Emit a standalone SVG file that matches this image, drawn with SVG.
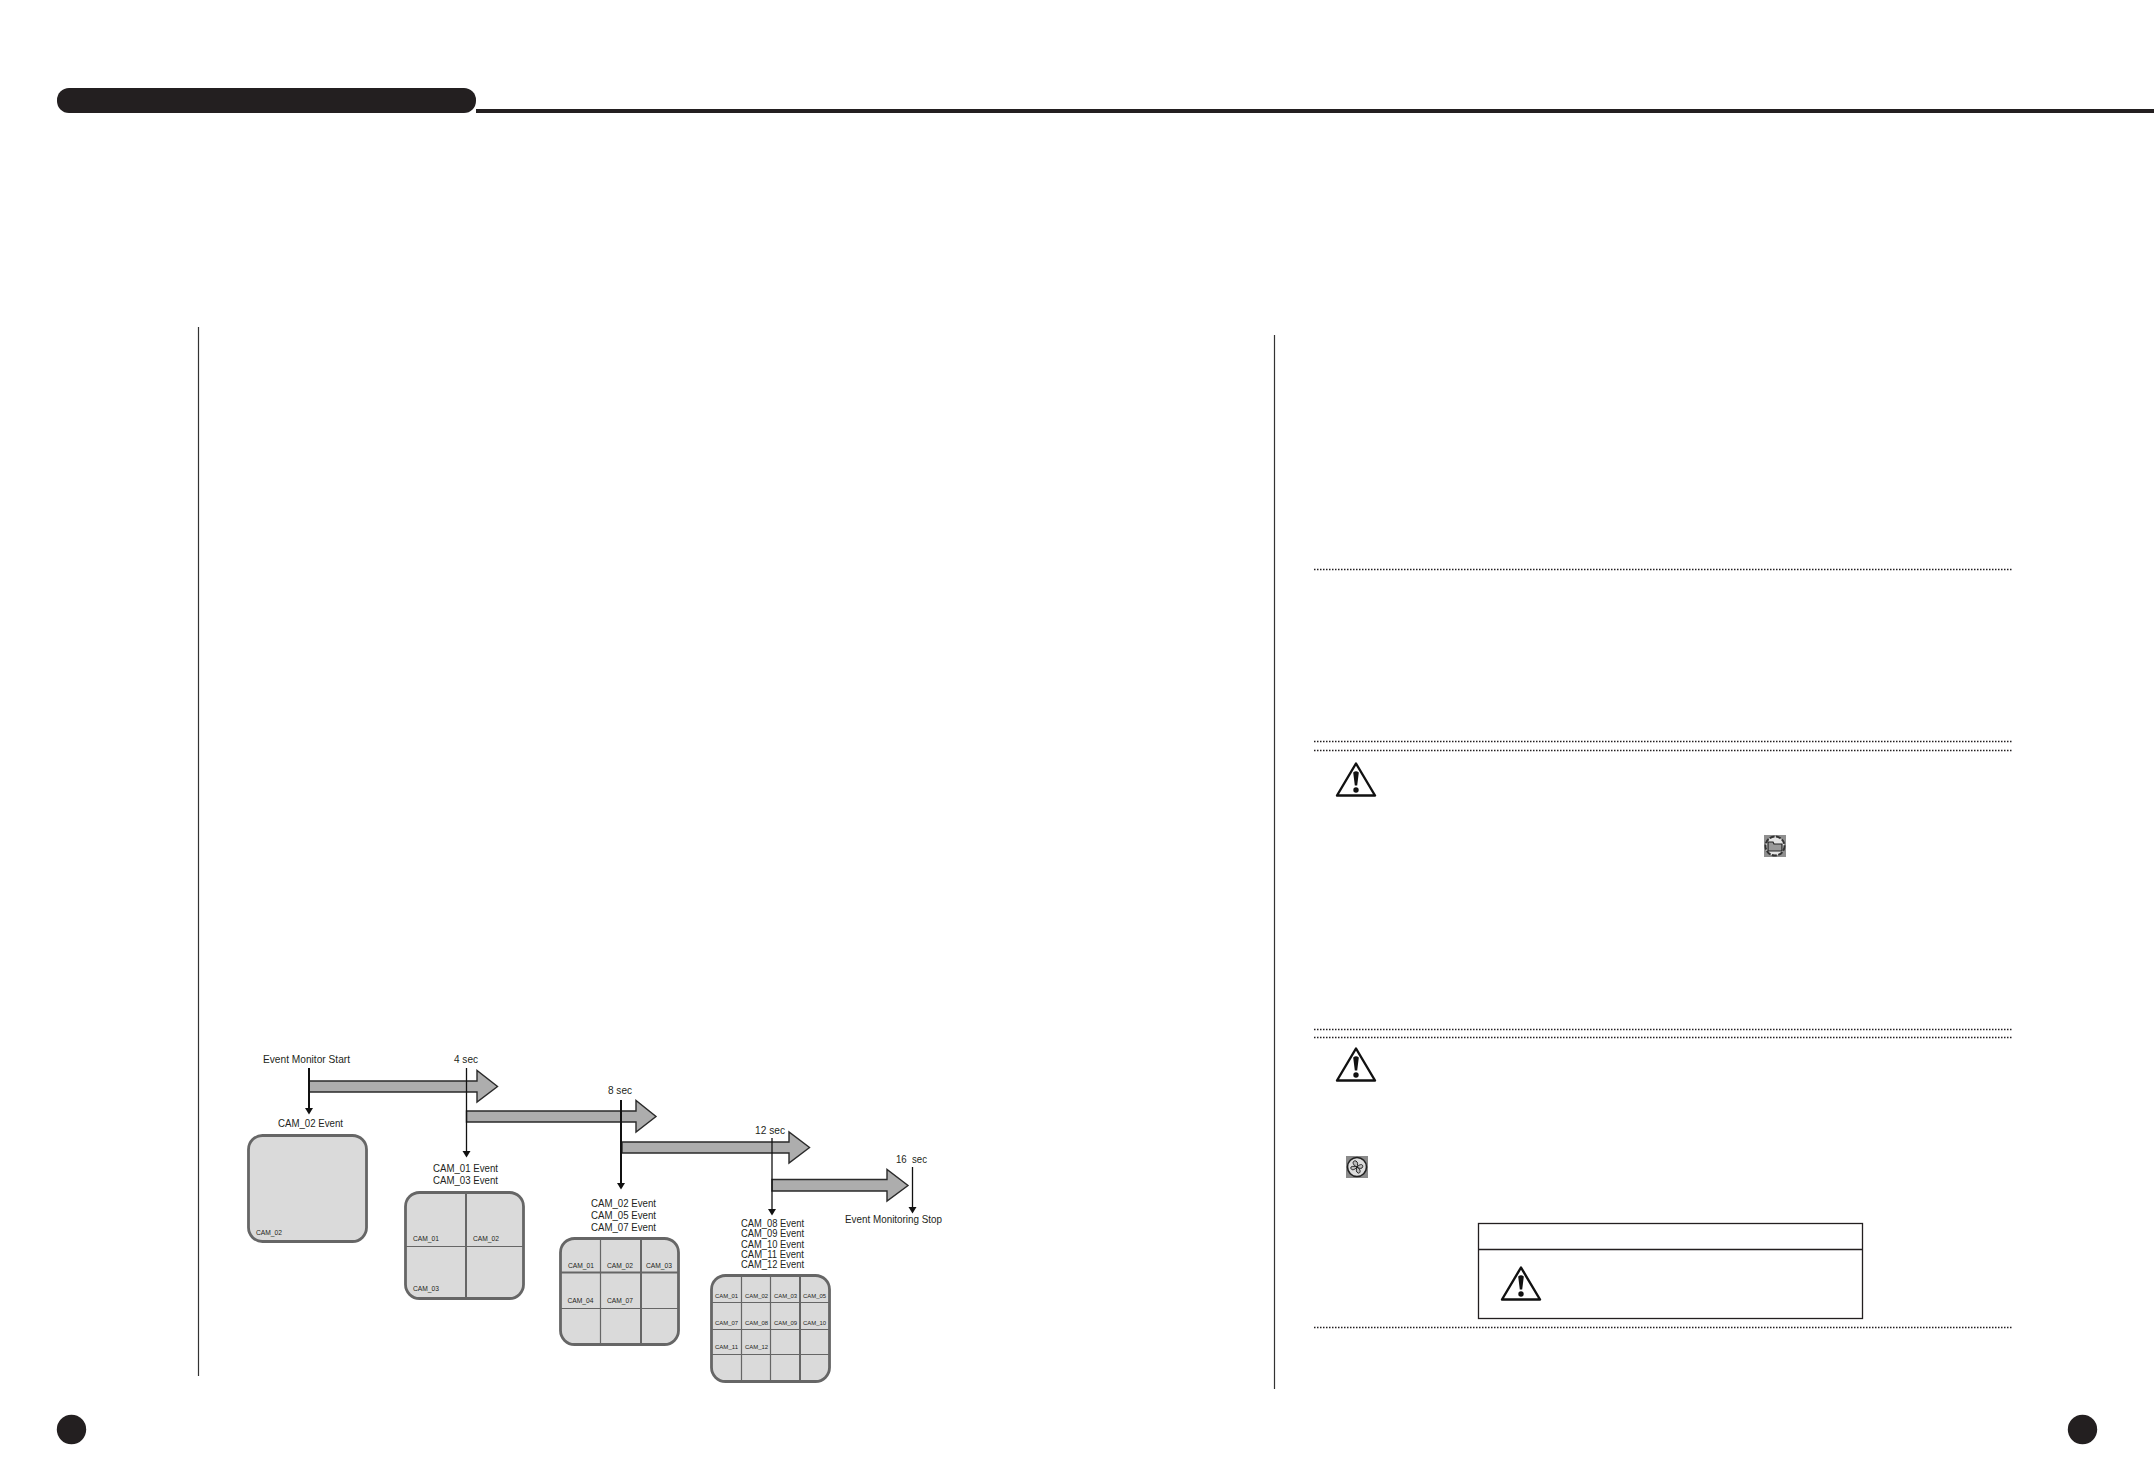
<svg xmlns="http://www.w3.org/2000/svg" width="2154" height="1474" viewBox="0 0 2154 1474">
<style>
.t{font-family:"Liberation Sans",Arial,sans-serif;font-size:10.3px;fill:#231f20}
.s{font-family:"Liberation Sans",Arial,sans-serif;font-size:6.7px;fill:#231f20}
.x{font-family:"Liberation Sans",Arial,sans-serif;font-size:5.9px;fill:#231f20}
.scr{fill:#dadada;stroke:#666;stroke-width:2.8}
.g{stroke:#666;stroke-width:1.2;fill:none}
.gt{stroke:#666;stroke-width:2;fill:none}
.arr{fill:#adadad;stroke:#2a2a2a;stroke-width:1.4}
.v{stroke:#111;stroke-width:1.3;fill:none;marker-end:url(#h)}
.vb{stroke:#111;stroke-width:2;fill:none;marker-end:url(#h)}
.dot{stroke:#231f20;stroke-width:1.4;stroke-dasharray:1.5 1.5;fill:none}
.rule{stroke:#333;stroke-width:1.2;fill:none}
</style>
<defs>
<marker id="h" markerUnits="userSpaceOnUse" markerWidth="7" markerHeight="10" refX="0" refY="4" viewBox="0 0 7 8" orient="auto"><path d="M0,0L6.500,4L0,8Z" fill="#111"/></marker>
<g id="warn">
<path d="M20,1.5L39,33.5L1,33.5Z" fill="#fff" stroke="#111" stroke-width="2.4" stroke-linejoin="round"/>
<path d="M17.200,10.500Q20,8 22.800,10.500L21.200,23.500L18.800,23.500Z" fill="#111"/>
<circle cx="20" cy="28" r="2.700" fill="#111"/>
</g>
</defs>

<g id="header">
<rect x="57" y="88" width="419" height="25" rx="12" fill="#231f20"/>
<rect x="476" y="109" width="1678" height="4" fill="#231f20"/>
</g>
<g id="page-rules">
<path class="rule" d="M198.500,327V1376"/>
<path class="rule" d="M1274.500,335V1389"/>
<path class="dot" d="M1314,569.500H2012M1314,741.500H2012M1314,750.500H2012M1314,1029.500H2012M1314,1037.500H2012M1314,1327.500H2012"/>
</g>
<g id="page-dots">
<circle cx="71.500" cy="1429.500" r="14.700" fill="#231f20"/>
<circle cx="2082.500" cy="1429.500" r="14.700" fill="#231f20"/>
</g>

<g id="screen-1">
<rect class="scr" x="248.500" y="1135.500" width="118" height="106" rx="14"/>
<text class="s" x="256" y="1235" textLength="26" lengthAdjust="spacingAndGlyphs">CAM_02</text>
</g>
<g id="screen-4">
<rect class="scr" x="405.500" y="1192.500" width="118" height="106" rx="14"/>
<path class="gt" d="M466,1192.500V1298.500"/>
<path class="g" d="M405.500,1246.500H523.500"/>
<text class="s" x="413" y="1241" textLength="26" lengthAdjust="spacingAndGlyphs">CAM_01</text>
<text class="s" x="473" y="1241" textLength="26" lengthAdjust="spacingAndGlyphs">CAM_02</text>
<text class="s" x="413" y="1291" textLength="26" lengthAdjust="spacingAndGlyphs">CAM_03</text>
</g>
<g id="screen-9">
<rect class="scr" x="560.500" y="1238.500" width="118" height="106" rx="14"/>
<path class="g" d="M600.500,1238.500V1344.500M560.500,1308.500H678.500"/>
<path class="gt" d="M641,1238.500V1344.500M560.500,1272.500H678.500"/>
<text class="s" x="568" y="1268" textLength="26" lengthAdjust="spacingAndGlyphs">CAM_01</text>
<text class="s" x="607" y="1268" textLength="26" lengthAdjust="spacingAndGlyphs">CAM_02</text>
<text class="s" x="646" y="1268" textLength="26" lengthAdjust="spacingAndGlyphs">CAM_03</text>
<text class="s" x="567.500" y="1303" textLength="26" lengthAdjust="spacingAndGlyphs">CAM_04</text>
<text class="s" x="607" y="1303" textLength="26" lengthAdjust="spacingAndGlyphs">CAM_07</text>
</g>
<g id="screen-16">
<rect class="scr" x="711.500" y="1275.500" width="118" height="106" rx="14"/>
<path class="g" d="M741.500,1275.500V1381.500M770.500,1275.500V1381.500M711.500,1302.500H829.500M711.500,1329.500H829.500M711.500,1354.500H829.500"/>
<path class="gt" d="M800,1275.500V1381.500"/>
<text class="x" x="715" y="1298" textLength="23" lengthAdjust="spacingAndGlyphs">CAM_01</text>
<text class="x" x="745" y="1298" textLength="23" lengthAdjust="spacingAndGlyphs">CAM_02</text>
<text class="x" x="774" y="1298" textLength="23" lengthAdjust="spacingAndGlyphs">CAM_03</text>
<text class="x" x="803" y="1298" textLength="23" lengthAdjust="spacingAndGlyphs">CAM_05</text>
<text class="x" x="715" y="1325" textLength="23" lengthAdjust="spacingAndGlyphs">CAM_07</text>
<text class="x" x="745" y="1325" textLength="23" lengthAdjust="spacingAndGlyphs">CAM_08</text>
<text class="x" x="774" y="1325" textLength="23" lengthAdjust="spacingAndGlyphs">CAM_09</text>
<text class="x" x="803" y="1325" textLength="23" lengthAdjust="spacingAndGlyphs">CAM_10</text>
<text class="x" x="715" y="1349" textLength="23" lengthAdjust="spacingAndGlyphs">CAM_11</text>
<text class="x" x="745" y="1349" textLength="23" lengthAdjust="spacingAndGlyphs">CAM_12</text>
</g>

<g id="connectors">
<path class="arr" d="M309,1081H477V1070.500L497.500,1086.500L477,1102V1092H309Z"/>
<path class="arr" d="M466.500,1111H636V1100.500L656,1116.500L636,1132V1122H466.500Z"/>
<path class="arr" d="M622,1142H789V1132L809.500,1147.500L789,1163V1153H622Z"/>
<path class="arr" d="M772,1179.500H887V1169.500L908,1185.500L887,1201V1191H772Z"/>
<path class="vb" d="M309,1068V1108"/>
<path class="v" d="M466.500,1068V1151"/>
<path class="vb" d="M621,1100V1183"/>
<path class="v" d="M772,1138V1209"/>
<path class="v" d="M912.500,1167V1207"/>
</g>

<g id="labels">
<text class="t" x="263" y="1063" textLength="87" lengthAdjust="spacingAndGlyphs">Event Monitor Start</text>
<text class="t" x="454" y="1063" textLength="24" lengthAdjust="spacingAndGlyphs">4 sec</text>
<text class="t" x="278" y="1127" textLength="65" lengthAdjust="spacingAndGlyphs">CAM_02 Event</text>
<text class="t" x="433" y="1172" textLength="65" lengthAdjust="spacingAndGlyphs">CAM_01 Event</text>
<text class="t" x="433" y="1184" textLength="65" lengthAdjust="spacingAndGlyphs">CAM_03 Event</text>
<text class="t" x="608" y="1094" textLength="24" lengthAdjust="spacingAndGlyphs">8 sec</text>
<text class="t" x="591" y="1207" textLength="65" lengthAdjust="spacingAndGlyphs">CAM_02 Event</text>
<text class="t" x="591" y="1219" textLength="65" lengthAdjust="spacingAndGlyphs">CAM_05 Event</text>
<text class="t" x="591" y="1231" textLength="65" lengthAdjust="spacingAndGlyphs">CAM_07 Event</text>
<text class="t" x="755" y="1134" textLength="30" lengthAdjust="spacingAndGlyphs">12 sec</text>
<text class="t" x="741" y="1227" textLength="63" lengthAdjust="spacingAndGlyphs">CAM_08 Event</text>
<text class="t" x="741" y="1237" textLength="63" lengthAdjust="spacingAndGlyphs">CAM_09 Event</text>
<text class="t" x="741" y="1247.500" textLength="63" lengthAdjust="spacingAndGlyphs">CAM_10 Event</text>
<text class="t" x="741" y="1258" textLength="63" lengthAdjust="spacingAndGlyphs">CAM_11  Event</text>
<text class="t" x="741" y="1268" textLength="63" lengthAdjust="spacingAndGlyphs">CAM_12 Event</text>
<text class="t" x="896" y="1163" textLength="31" lengthAdjust="spacingAndGlyphs" xml:space="preserve">16  sec</text>
<text class="t" x="845" y="1223" textLength="97" lengthAdjust="spacingAndGlyphs">Event Monitoring Stop</text>
</g>

<g id="warning-1"><use href="#warn" x="1336" y="762"/></g>
<g id="warning-2"><use href="#warn" x="1336" y="1047"/></g>
<g id="disk-icon">
<rect x="1764" y="835" width="22" height="22" fill="#8f8f8f"/>
<circle cx="1775" cy="846" r="9.500" fill="#e4e4e4" stroke="#333" stroke-width="2" stroke-dasharray="5 1.500"/>
<path d="M1768,842H1773L1774,844H1782V851H1768Z" fill="#999" stroke="#222" stroke-width="1.200"/>
</g>
<g id="fan-icon">
<rect x="1346" y="1156" width="22" height="22" fill="#8a8a8a"/>
<circle cx="1357" cy="1167" r="9.500" fill="#ddd" stroke="#222" stroke-width="1.600"/>
<path d="M1357,1167C1352,1165 1352,1160 1356,1161C1358,1162 1358,1165 1357,1167C1362,1162 1364,1166 1362,1168C1360,1169 1359,1168 1357,1167C1362,1170 1360,1174 1358,1173C1356,1172 1356,1170 1357,1167C1353,1172 1350,1169 1351,1167C1353,1166 1355,1166 1357,1167Z" fill="#bbb" stroke="#222"/>
</g>
<g id="warning-table">
<rect x="1478.500" y="1223.500" width="384" height="95" fill="#fff" stroke="#231f20" stroke-width="1.300"/>
<path d="M1478.500,1249.500H1862.500" stroke="#231f20" stroke-width="1.300"/>
<use href="#warn" x="1501" y="1266"/>
</g>
</svg>
